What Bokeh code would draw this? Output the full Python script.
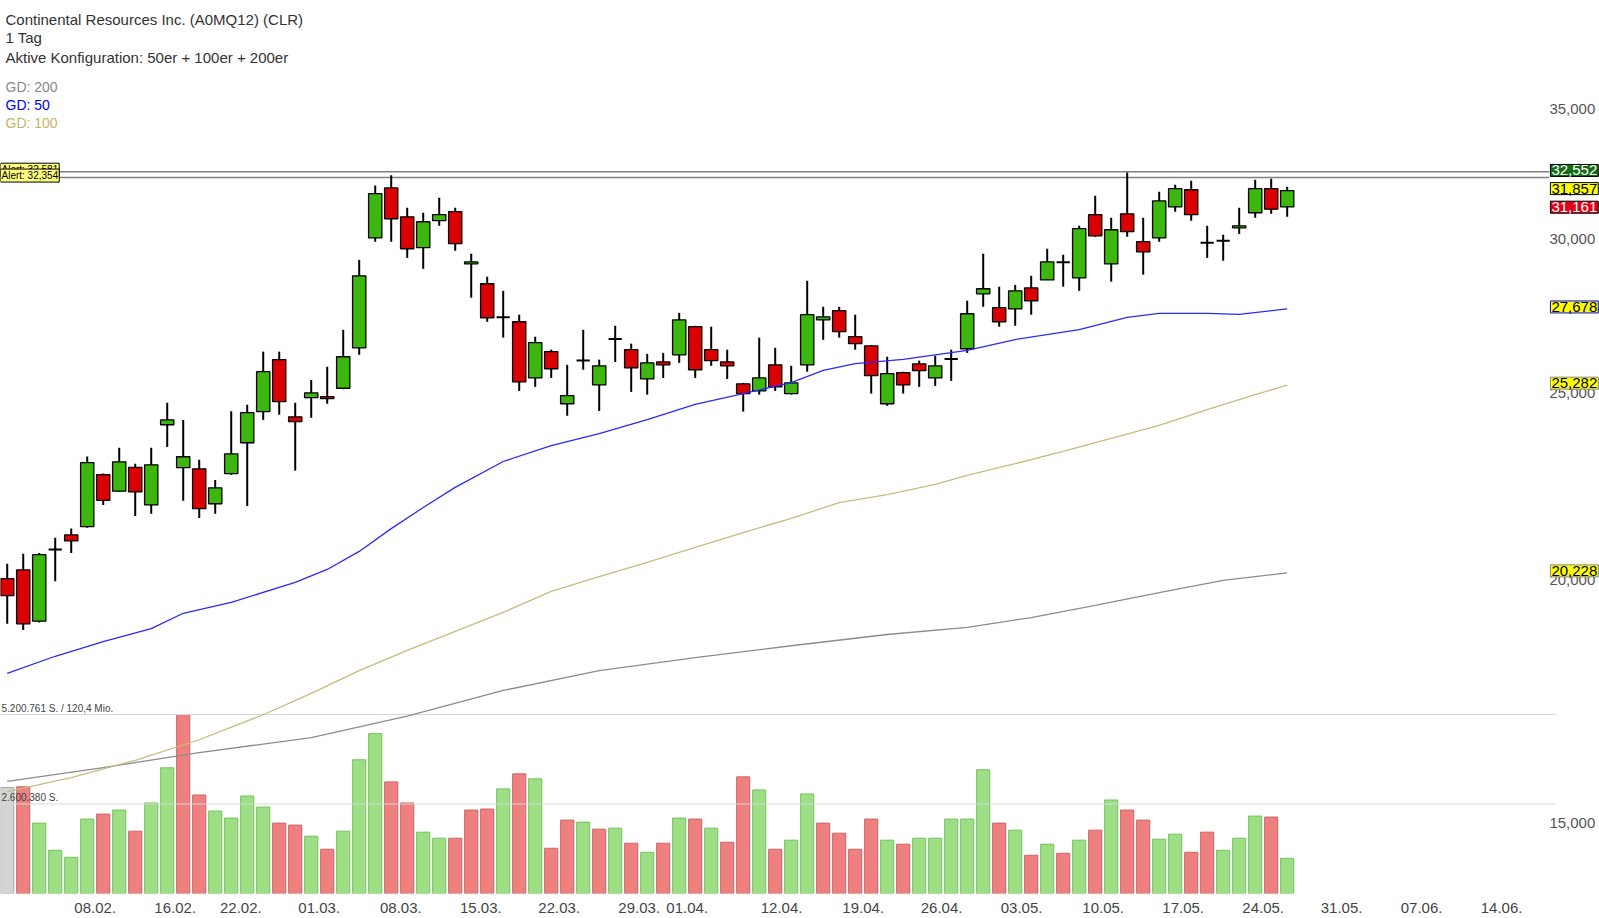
from bokeh.plotting import figure
from bokeh.models import (Range1d, LinearScale, FixedTicker, CustomJSTickFormatter,
                          Label, ColumnDataSource)
from bokeh.embed import file_html
from bokeh.resources import INLINE

# ---------------- data (daily candles, Feb - May) ----------------
opens = [20.09, 20.30, 19.10, 20.80, 21.16, 21.37, 22.73, 22.29, 22.93, 21.93,
         24.12, 22.92, 22.89, 21.96, 22.76, 23.61, 24.50, 26.06, 24.35, 24.91,
         24.94, 25.19, 26.43, 30.12, 31.96, 30.88, 29.77, 30.74, 31.07, 29.20,
         28.52, 27.41, 27.26, 25.50, 26.31, 24.73, 26.03, 25.29, 26.71, 26.37,
         25.47, 25.99, 26.21, 27.10, 26.37, 25.99, 25.32, 25.11, 25.90, 25.03,
         25.90, 27.32, 27.62, 26.78, 26.49, 24.73, 25.66, 25.93, 25.50, 26.08,
         26.40, 28.18, 27.72, 27.68, 28.38, 28.65, 29.26, 28.72, 30.96, 29.20,
         30.99, 29.98, 30.12, 31.25, 31.89, 29.94, 30.01, 30.48, 31.03, 31.93,
         31.25]
highs = [20.45, 20.69, 20.71, 21.09, 21.32, 23.23, 22.76, 23.47, 23.03, 23.47,
         24.76, 24.26, 23.14, 22.59, 24.51, 24.70, 26.31, 26.31, 24.76, 25.44,
         25.84, 27.00, 29.34, 32.05, 32.44, 31.21, 31.03, 31.59, 31.21, 29.55,
         28.76, 28.28, 27.49, 26.78, 26.37, 25.90, 27.00, 26.06, 27.13, 26.56,
         26.24, 26.27, 27.55, 27.13, 27.10, 26.37, 25.35, 26.75, 26.43, 25.87,
         28.62, 27.75, 27.75, 27.49, 26.52, 26.15, 25.69, 26.03, 26.18, 26.37,
         27.95, 29.55, 28.42, 28.48, 28.79, 29.73, 29.52, 30.55, 31.66, 30.85,
         32.552, 30.85, 31.81, 32.08, 32.23, 30.55, 30.23, 31.21, 32.27, 32.31,
         32.00]
lows = [19.04, 18.90, 19.07, 20.03, 20.71, 21.34, 21.93, 22.27, 21.64, 21.70,
        23.49, 22.04, 21.59, 21.70, 22.73, 21.90, 24.26, 24.41, 22.84, 24.32,
        24.73, 25.16, 26.21, 29.98, 29.98, 29.41, 29.03, 30.55, 29.66, 28.05,
        27.26, 26.75, 25.11, 25.23, 25.50, 24.38, 25.75, 24.52, 25.99, 25.08,
        25.00, 25.50, 25.96, 25.50, 25.87, 25.47, 24.50, 25.00, 25.11, 25.00,
        25.69, 26.68, 26.75, 26.37, 25.03, 24.67, 25.03, 25.23, 25.26, 25.41,
        26.27, 27.75, 27.10, 27.13, 27.49, 28.65, 28.42, 28.28, 30.16, 28.59,
        30.16, 28.83, 29.98, 31.07, 30.74, 29.41, 29.31, 30.26, 30.85, 30.99,
        30.88]
closes = [19.69, 19.04, 20.67, 20.80, 21.01, 23.06, 22.05, 23.08, 22.27, 23.00,
          24.26, 23.22, 21.83, 22.38, 23.30, 24.47, 25.69, 24.79, 24.21, 25.05,
          24.88, 26.15, 28.79, 31.74, 30.81, 29.73, 30.70, 30.96, 29.91, 29.27,
          27.39, 27.41, 25.38, 26.59, 25.78, 24.97, 26.03, 25.87, 26.71, 25.81,
          25.96, 25.90, 27.32, 25.75, 26.03, 25.87, 25.03, 25.50, 25.23, 25.35,
          27.49, 27.42, 26.94, 26.56, 25.57, 25.63, 25.29, 25.72, 25.87, 26.08,
          27.52, 28.35, 27.26, 28.28, 27.95, 29.27, 29.26, 30.45, 30.19, 30.41,
          30.34, 29.62, 31.47, 31.93, 30.96, 29.94, 30.01, 30.55, 31.93, 31.161,
          31.857]
volumes = [3080000, 3100000, 2045000, 1256000, 1052000, 2162000, 2308000, 2425000, 1811000, 2630000,
           3652000, 5200761, 2863000, 2396000, 2191000, 2834000, 2513000, 2045000, 1987000, 1665000,
           1286000, 1811000, 3886000, 4646000, 3243000, 2630000, 1782000, 1607000, 1607000, 2425000,
           2454000, 3039000, 3477000, 3331000, 1315000, 2133000, 2074000, 1870000, 1899000, 1461000,
           1198000, 1461000, 2191000, 2162000, 1899000, 1490000, 3389000, 3009000, 1286000, 1549000,
           2893000, 2045000, 1753000, 1286000, 2162000, 1549000, 1432000, 1607000, 1607000, 2162000,
           2162000, 3594000, 2045000, 1841000, 1110000, 1432000, 1169000, 1549000, 1841000, 2717000,
           2425000, 2133000, 1578000, 1724000, 1198000, 1782000, 1256000, 1607000, 2250000, 2221000,
           1023000]
turnover_label = "120,4 Mio."

gd50_idx = [0, 3, 6, 9, 11, 14, 18, 20, 22, 24, 26, 28, 31, 34, 37, 40, 43, 46, 49, 51,
            53, 56, 60, 63, 67, 70, 72, 75, 77, 80]
gd50 = [17.95, 18.32, 18.64, 18.93, 19.28, 19.53, 20.00, 20.31, 20.75, 21.32, 21.86, 22.39,
        23.09, 23.53, 23.87, 24.27, 24.71, 25.03, 25.36, 25.73, 25.94, 26.07, 26.35, 26.69,
        27.01, 27.40, 27.53, 27.53, 27.50, 27.678]
gd100_idx = [0, 4, 8, 12, 16, 19, 22, 25, 28, 31, 34, 37, 40, 43, 46, 49, 52, 55, 58, 60,
             63, 66, 69, 72, 75, 78, 80]
gd100 = [15.60, 15.86, 16.19, 16.59, 17.09, 17.53, 18.01, 18.45, 18.87, 19.30, 19.79, 20.14,
         20.48, 20.85, 21.22, 21.58, 21.99, 22.20, 22.47, 22.71, 23.03, 23.37, 23.73, 24.10,
         24.56, 25.00, 25.282]
gd200_idx = [0, 6, 12, 19, 25, 31, 37, 43, 49, 55, 60, 64, 68, 72, 76, 80]
gd200 = [15.79, 16.05, 16.34, 16.63, 17.06, 17.59, 18.01, 18.29, 18.55, 18.80, 18.96, 19.18,
         19.46, 19.76, 20.05, 20.228]

alerts = [32.581, 32.354]

tick_pos = [5.5, 10.5, 14.6, 19.5, 24.6, 29.6, 34.5, 39.5, 42.5, 48.4, 53.5, 58.4, 63.4,
            68.5, 73.5, 78.5, 83.4, 88.4, 93.4]
tick_labels = ["08.02.", "16.02.", "22.02.", "01.03.", "08.03.", "15.03.", "22.03.", "29.03.",
               "01.04.", "12.04.", "19.04.", "26.04.", "03.05.", "10.05.", "17.05.", "24.05.",
               "31.05.", "07.06.", "14.06."]
price_ticks = [15, 20, 25, 30, 35]

# ---------------- styling ----------------
FONT = "Liberation Sans"
W, H = 1599, 918
BOTTOM = 25
frame_h = H - BOTTOM
GREEN, RED = "#3bb70d", "#dd0000"
X_START, X_END = -0.42, 99.52      # slots visible across the full width
AXIS_X = 96.39                     # slot where the price scale column begins
GRID_X = 96.77                     # right end of the volume grid lines

n = len(closes)
idx = list(range(n))

p = figure(width=W, height=H, output_backend="svg", toolbar_location=None,
           x_range=Range1d(X_START, X_END), y_range=Range1d(13.82, 39.93),
           y_axis_type="log", y_axis_location=None, title_location=None,
           min_border_left=0, min_border_top=0, min_border_right=0,
           min_border_bottom=BOTTOM, outline_line_color=None,
           background_fill_color="white", border_fill_color="white")
p.xgrid.grid_line_color = None
p.ygrid.grid_line_color = None

# date axis
p.xaxis.ticker = FixedTicker(ticks=tick_pos)
p.xaxis.formatter = CustomJSTickFormatter(args=dict(pos=tick_pos, lab=tick_labels), code="""
for (let k = 0; k < pos.length; k++) { if (Math.abs(pos[k] - tick) < 1e-6) return lab[k]; }
return "";
""")
ax = p.xaxis[0]
ax.axis_line_color = None
ax.major_tick_line_color = None
ax.minor_tick_line_color = None
ax.major_label_text_font = FONT
ax.major_label_text_font_size = "15px"
ax.major_label_text_color = "#444444"
ax.major_label_standoff = 3


def de_price(v):
    return f"{v:.3f}".replace(".", ",")


def de_int(v):
    return f"{int(v):,}".replace(",", ".")


# price scale labels (right column)
for t in price_ticks:
    p.add_layout(Label(x=AXIS_X, y=t, text=de_price(t), text_font=FONT, text_font_size="15px",
                       text_color="#555555", text_align="left", text_baseline="middle",
                       y_offset=2))

# volume panel (overlaid at the bottom)
vmax = max(volumes)
p.extra_y_ranges = {"vol": Range1d(0, vmax * frame_h / 179)}
p.extra_y_scales = {"vol": LinearScale()}
vfill, vline = [], []
for i in idx:
    if i == 0:
        vfill.append("#d4d4d4"); vline.append("#a8a8a8")
    elif closes[i] >= closes[i - 1]:
        vfill.append("#9ddf85"); vline.append("#78c060")
    else:
        vfill.append("#ef8080"); vline.append("#cc6666")
vsrc = ColumnDataSource(dict(x=idx, top=volumes, fill=vfill, line=vline))
p.vbar(x="x", top="top", bottom=0, width=0.82, fill_color="fill", line_color="line",
       line_width=1, source=vsrc, y_range_name="vol")

vlevels = [vmax, vmax / 2]
p.segment(x0=[X_START] * 2, x1=[GRID_X] * 2, y0=vlevels, y1=vlevels, line_color="#d8d8d8",
          line_width=1, y_range_name="vol")
for lvl, txt in [(vmax, f"{de_int(vmax)} S. / {turnover_label}"), (vmax / 2, f"{de_int(vmax / 2)} S.")]:
    p.add_layout(Label(x=1, y=lvl, x_units="screen", y_range_name="vol", text=txt,
                       text_font=FONT, text_font_size="10px", text_color="#444444",
                       text_baseline="bottom", y_offset=1))

# moving averages (lower ones)
p.line(gd200_idx, gd200, line_color="#8c8c8c", line_width=1.3)
p.line(gd100_idx, gd100, line_color="#c9bb7d", line_width=1.3)

# alert lines
p.segment(x0=[X_START] * 2, x1=[AXIS_X] * 2, y0=alerts, y1=alerts, line_color="#808080",
          line_width=1.5)

# candles
ccol = [GREEN if c > o else (RED if c < o else "black") for o, c in zip(opens, closes)]
csrc = ColumnDataSource(dict(x=idx, o=opens, h=highs, l=lows, c=closes,
                             top=[max(o, c) for o, c in zip(opens, closes)],
                             bot=[min(o, c) for o, c in zip(opens, closes)],
                             col=ccol,
                             lw=[2 if o == c else 1.3 for o, c in zip(opens, closes)]))
p.segment(x0="x", y0="l", x1="x", y1="h", line_color="black", line_width=2, source=csrc)
p.vbar(x="x", top="top", bottom="bot", width=0.83, fill_color="col", line_color="black",
       line_width="lw", source=csrc)

# GD 50
p.line(gd50_idx, gd50, line_color="#2a2aff", line_width=1.3)

# alert labels on the left
for a in alerts:
    p.add_layout(Label(x=0, y=a, x_units="screen", text="Alert: " + de_price(a),
                       text_font=FONT, text_font_size="10px", text_color="black",
                       text_baseline="middle", background_fill_color="#ffff80",
                       border_line_color="black", border_line_width=1, y_offset=2,
                       padding=1))

# price boxes on the right
boxes = [(max(highs), "#146c14", "white", "black"),
         (closes[-1], "#ffff00", "black", "black"),
         (closes[-2], "#e0001a", "white", "black"),
         (gd50[-1], "#ffff00", "black", "#0000ff"),
         (gd100[-1], "#ffff00", "black", "#888888"),
         (gd200[-1], "#ffff00", "black", "#888888")]
for v, bg, fg, bd in boxes:
    p.add_layout(Label(x=AXIS_X, y=v, text=de_price(v), text_font=FONT,
                       text_font_size="15px", text_color=fg, text_align="left",
                       text_baseline="middle", background_fill_color=bg,
                       border_line_color=bd, border_line_width=1, padding=1, x_offset=1,
                       y_offset=2))

# header texts
header = [("Continental Resources Inc. (A0MQ12) (CLR)", 18.5, "#333333", "15px"),
          ("1 Tag", 37, "#333333", "15px"),
          ("Aktive Konfiguration: 50er + 100er + 200er", 57, "#333333", "15px"),
          ("GD: 200", 86.5, "#8a8a8a", "14px"),
          ("GD: 50", 104.5, "#0000ff", "14px"),
          ("GD: 100", 122, "#c8b464", "14px")]
for txt, yy, col, size in header:
    p.add_layout(Label(x=5, y=frame_h - yy, x_units="screen", y_units="screen", text=txt,
                       text_font=FONT, text_font_size=size, text_color=col,
                       text_baseline="middle"))

open("out.html", "w").write(file_html(p, INLINE))
